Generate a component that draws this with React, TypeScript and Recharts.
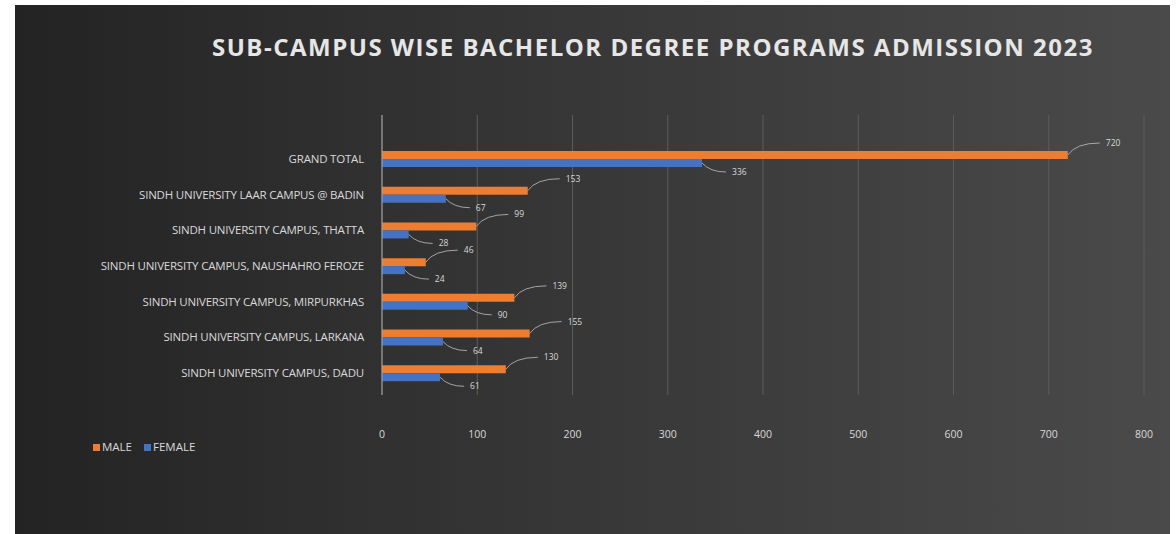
import { Bar, BarChart, CartesianGrid, Legend, XAxis, YAxis } from 'recharts';

const campuses = [
    "GRAND TOTAL",
    "SINDH UNIVERSITY LAAR CAMPUS @ BADIN",
    "SINDH UNIVERSITY CAMPUS, THATTA",
    "SINDH UNIVERSITY CAMPUS, NAUSHAHRO FEROZE",
    "SINDH UNIVERSITY CAMPUS, MIRPURKHAS",
    "SINDH UNIVERSITY CAMPUS, LARKANA",
    "SINDH UNIVERSITY CAMPUS, DADU",
];
const male = [720, 153, 99, 46, 139, 155, 130];
const female = [336, 67, 28, 24, 90, 64, 61];
const xTicks = [0, 100, 200, 300, 400, 500, 600, 700, 800];

const data = campuses.map((name, i) => ({ name, male: male[i], female: female[i] }));

const MALE_COLOR = "#ED7D31";
const FEMALE_COLOR = "#4472C4";
const TEXT = "#d9d9d9";

const leaderLabel = (up: boolean) => (props: any) => {
    const { x, y, width, height, value } = props;
    const sx = x + width;
    const sy = y + height / 2;
    const ex = sx + (up ? 32 : 24);
    const ey = sy + (up ? -12 : 9);
    return <g>
        <path d={`M${sx},${sy} Q${sx + 8},${ey} ${ex},${ey}`} stroke="#bfbfbf" strokeWidth={0.8} fill="none" />
        <text x={ex + 6} y={ey + 3} fill={TEXT} fontSize={8.5}>{value}</text>
    </g>
}

const CampusTick = (props: any) => {
    const { x, y, payload } = props;
    return <text x={x} y={y} dy={4} textAnchor="end" fill={TEXT} fontSize={11.5} letterSpacing={-0.2}>
        {payload.value}
    </text>
}

const LegendBox = () => <div style={{ display: "flex", gap: 12, fontSize: 11.5, color: TEXT }}>
    <span><span style={{ display: "inline-block", width: 7, height: 7, background: MALE_COLOR, marginRight: 2 }} />MALE</span>
    <span><span style={{ display: "inline-block", width: 7, height: 7, background: FEMALE_COLOR, marginRight: 2 }} />FEMALE</span>
</div>

export default function App() {
    return <div style={{ position: "fixed", left: 0, top: 0, width: 1176, height: 534, background: "#fff" }}>
        <div style={{
            position: "absolute", left: 15, top: 5, width: 1155, height: 529,
            background: "linear-gradient(90deg, #232323 0%, #303030 30%, #4a4a4a 100%)",
            fontFamily: "'Open Sans', sans-serif",
        }}>
            <div style={{ position: "absolute", left: 197, width: 875, top: 25, textAlign: "center", color: "#e6e6e6", fontWeight: 700, fontSize: 24, letterSpacing: 1.5, whiteSpace: "nowrap" }}>
                SUB-CAMPUS WISE BACHELOR DEGREE PROGRAMS ADMISSION 2023
            </div>
            <BarChart width={1155} height={529} data={data} layout="vertical"
                margin={{ top: 110, right: 26, bottom: 94, left: 0 }} barSize={8} barGap={0}>
                <CartesianGrid horizontal={false} stroke="#5c5c5c" />
                <XAxis type="number" domain={[0, 800]} ticks={xTicks} axisLine={false} tickLine={false}
                    tickMargin={30} tick={{ fill: TEXT, fontSize: 10.5 }} />
                <YAxis type="category" dataKey="name" width={367} axisLine={{ stroke: "#a6a6a6" }} tickLine={false}
                    padding={{ top: 26, bottom: 4 }} tick={<CampusTick />} tickMargin={12} />
                <Legend content={<LegendBox />} wrapperStyle={{ left: 78, top: 434, width: 220 }} />
                <Bar dataKey="male" name="MALE" fill={MALE_COLOR} isAnimationActive={false} label={leaderLabel(true)} />
                <Bar dataKey="female" name="FEMALE" fill={FEMALE_COLOR} isAnimationActive={false} label={leaderLabel(false)} />
            </BarChart>
        </div>
    </div>
}
